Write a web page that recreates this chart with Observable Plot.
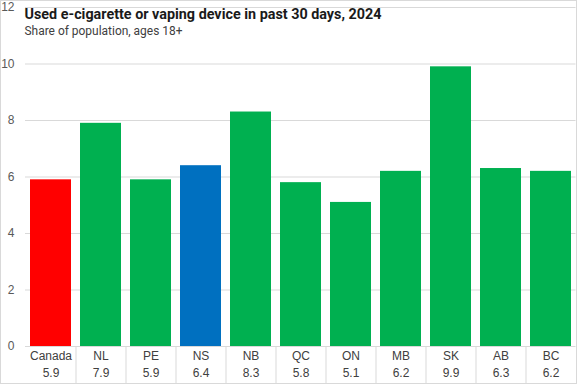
<!DOCTYPE html>
<html><head><meta charset="utf-8">
<script src="https://cdn.jsdelivr.net/npm/d3@7"></script>
<script src="https://cdn.jsdelivr.net/npm/@observablehq/plot@0.6"></script>
<style>
body{margin:0;background:#fff;}
#wrap{position:relative;width:577px;height:384px;overflow:hidden;background:#fff;}
#wrap svg{display:block;}
#border{position:absolute;left:0;top:0;width:575px;height:382px;border:1px solid #d9d9d9;pointer-events:none;}
</style></head>
<body><div id="wrap"><div id="border"></div></div>
<script>
const regions = ["Canada","NL","PE","NS","NB","QC","ON","MB","SK","AB","BC"];
const values = [5.9,7.9,5.9,6.4,8.3,5.8,5.1,6.2,9.9,6.3,6.2];
const groups = ["national","province","province","focus","province","province","province","province","province","province","province"];
const yTicks = [0,2,4,6,8,10,12];
const title = "Used e-cigarette or vaping device in past 30 days, 2024";
const subtitle = "Share of population, ages 18+";

const data = regions.map((r, i) => ({region: r, value: values[i], group: groups[i]}));

const chart = Plot.plot({
  width: 577, height: 384,
  marginLeft: 25, marginRight: 1.5, marginTop: 7, marginBottom: 38,
  style: {fontFamily: "'Liberation Sans', Arial, sans-serif", fontSize: "12px", color: "#595959", background: "transparent"},
  x: {domain: regions, paddingInner: 0.18, paddingOuter: 0.09, axis: null},
  y: {domain: [0, 12], axis: null},
  color: {domain: ["national","province","focus"], range: ["#FF0000","#00B050","#0070C0"]},
  marks: [
    Plot.gridY(yTicks, {stroke: "#d9d9d9", strokeOpacity: 1}),
    Plot.axisY(yTicks, {tickSize: 0, tickPadding: 11, fill: "#595959", fontSize: 12, label: null}),
    Plot.barY(data, {x: "region", y: "value", fill: "group"}),
    Plot.ruleX(regions.slice(1), {x: d => d, y1: 0, y2: -1.4, dx: -25, stroke: "#d9d9d9"}),
    Plot.text(data, {x: "region", y: 0, text: "region", dy: 10, fill: "#404040", fontSize: 12}),
    Plot.text(data, {x: "region", y: 0, text: d => d.value.toFixed(1), dy: 27, fill: "#404040", fontSize: 12}),
    Plot.text([title], {frameAnchor: "top-left", text: d => d, textAnchor: "start", lineAnchor: "top", dx: -1, dy: 1, fontSize: 15, fontWeight: "bold", fill: "#1a1a1a", fontFamily: "Roboto, sans-serif"}),
    Plot.text([subtitle], {frameAnchor: "top-left", text: d => d, textAnchor: "start", lineAnchor: "top", dx: -1, dy: 19, fontSize: 12.5, fill: "#404040", fontFamily: "Roboto, sans-serif"})
  ]
});

document.getElementById("wrap").prepend(chart);
for (const t of chart.querySelectorAll("text")) {
  if (t.textContent === title) { t.setAttribute("textLength", 357); t.setAttribute("lengthAdjust", "spacingAndGlyphs"); }
  if (t.textContent === subtitle) { t.setAttribute("textLength", 158); t.setAttribute("lengthAdjust", "spacingAndGlyphs"); }
}
</script>
</body></html>
